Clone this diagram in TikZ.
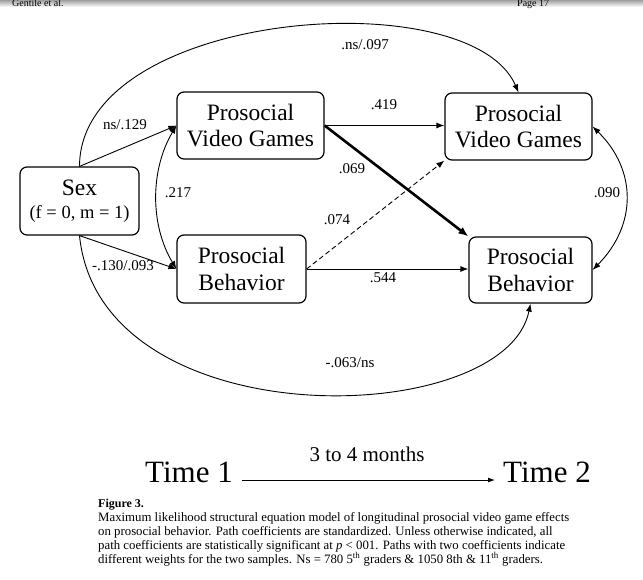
\documentclass[tikz,border=0pt]{standalone}
\usepackage{fontspec}
\setmainfont{Liberation Serif}
\usetikzlibrary{arrows.meta,calc}
\begin{document}
\begin{tikzpicture}[x=1pt,y=-1pt,
  box/.style={draw,line width=1.2pt,rounded corners=7pt,inner sep=0pt,align=center,font=\fontsize{23.5}{26.5}\selectfont},
  lab/.style={font=\fontsize{15}{17}\selectfont,inner sep=0pt},
  arr/.style={line width=0.9pt,-{Latex[length=8pt,width=6pt]}},
  darr/.style={line width=0.9pt,{Latex[length=8pt,width=6pt]}-{Latex[length=8pt,width=6pt]}},
  captxt/.style={anchor=base west,inner sep=0pt,font=\fontsize{12.8}{14}\selectfont},
  timetxt/.style={anchor=base west,inner sep=0pt,font=\fontsize{31}{33}\selectfont},
]
\useasboundingbox (0,0) rectangle (643,579);
% header
\shade[top color=gray!75, bottom color=white] (0,0) rectangle (643,7);
\node[anchor=base west,inner sep=0pt,font=\fontsize{10}{12}\selectfont] (hdl) at (12,6) {Gentile et al.};
\node[anchor=base west,inner sep=0pt,font=\fontsize{10}{12}\selectfont] (hdr) at (517,6) {Page 17};

% boxes
\node[box,minimum width=119pt,minimum height=68pt] (sex) at (79.5,201) {Sex\\[-3pt]{\fontsize{18.5}{20}\selectfont (f = 0, m = 1)}};
\node[box,minimum width=147pt,minimum height=67pt] (vg1) at (250.5,125.5) {Prosocial\\Video Games};
\node[box,minimum width=129pt,minimum height=68pt] (pb1) at (241.5,269) {Prosocial\\Behavior};
\node[box,minimum width=147pt,minimum height=67pt] (vg2) at (518.5,126.5) {Prosocial\\Video Games};
\node[box,minimum width=123pt,minimum height=66pt] (pb2) at (530.5,270) {Prosocial\\Behavior};

% connectors
\draw[arr] (sex.north) .. controls (80,10) and (470,-20) .. (vg2.north);
\draw[arr] (sex.south) .. controls (100,440) and (505,430) .. (pb2.south);
\draw[arr] (sex.north) -- (vg1.west);
\draw[arr] (sex.south) -- (pb1.west);
\draw[darr] (vg1.west) .. controls (150,170) and (150,225) .. (pb1.west);
\draw[darr] (vg2.east) .. controls (637,170) and (637,225) .. (pb2.east);
\draw[arr] (vg1.east) -- (vg1.east -| vg2.west);
\draw[line width=2.6pt,-{Latex[length=10pt,width=8pt]}] (vg1.east) -- (pb2.north west);
\draw[arr,dash pattern=on 5pt off 3pt] (pb1.east) -- (vg2.south west);
\draw[arr] (pb1.east) -- (pb1.east -| pb2.west);

% labels
\node[lab] (l1) at (365,45) {.ns/.097};
\node[lab] (l2) at (384,105) {.419};
\node[lab] (l3) at (352,169) {.069};
\node[lab] (l4) at (337,220) {.074};
\node[lab] (l5) at (383,278) {.544};
\node[lab] (l6) at (178,193) {.217};
\node[lab] (l7) at (607,193) {.090};
\node[lab] (l8) at (125,125) {ns/.129};
\node[lab] (l9) at (123,266) {-.130/.093};
\node[lab] (l10) at (350,363) {-.063/ns};

% time line
\node[timetxt] (t1) at (145,482) {Time 1};
\node[timetxt] (t2) at (503,482) {Time 2};
\draw[line width=0.9pt,-{Latex[length=7pt,width=5pt]}] ([xshift=9pt,yshift=2pt]t1.base east) -- ([xshift=-8pt,yshift=2pt]t2.base west);
\node[anchor=base,inner sep=0pt,font=\fontsize{21}{23}\selectfont] (mo) at (367,461) {3 to 4 months};

% caption
\node[captxt,font=\bfseries\fontsize{12}{13}\selectfont] (fig) at (98,507) {Figure 3.};
\node[captxt] (c1) at (98,521) {Maximum likelihood structural equation model of longitudinal prosocial video game effects};
\node[captxt] (c2) at (98,535) {on prosocial behavior. Path coefficients are standardized. Unless otherwise indicated, all};
\node[captxt] (c3) at (98,549) {path coefficients are statistically significant at \textit{p} < 001. Paths with two coefficients indicate};
\node[captxt] (c4) at (98,563) {different weights for the two samples. Ns = 780 5\textsuperscript{th} graders \& 1050 8th \& 11\textsuperscript{th} graders.};
\end{tikzpicture}
\end{document}
